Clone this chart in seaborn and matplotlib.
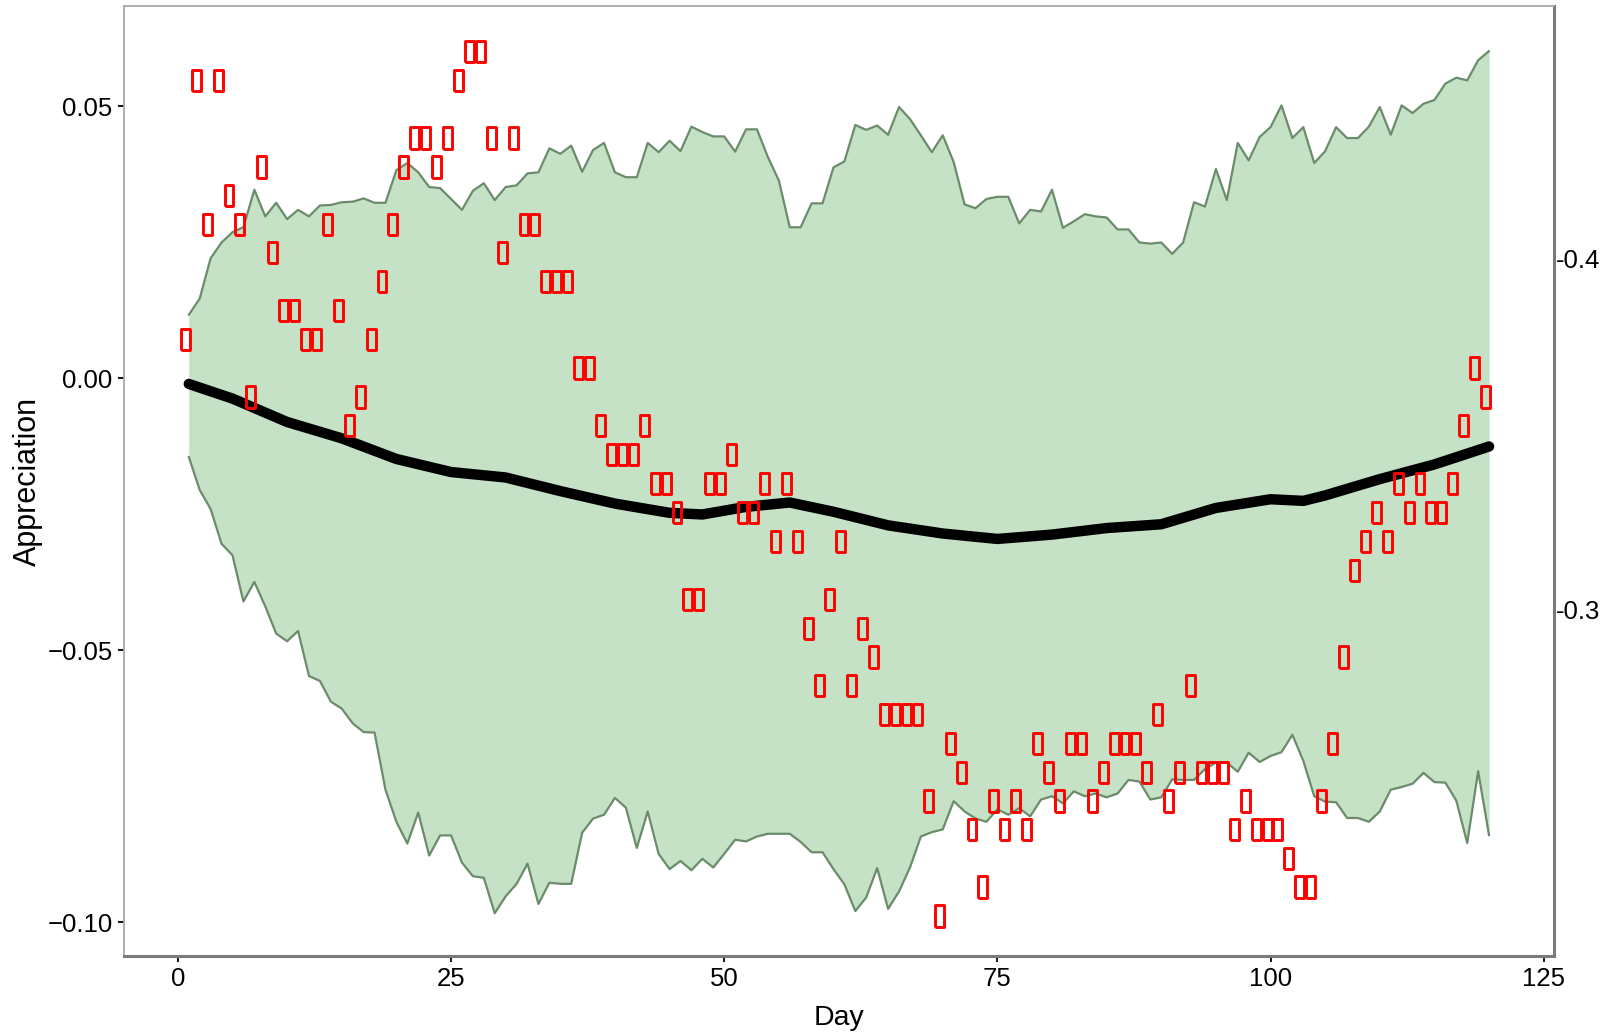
import numpy as np
import pandas as pd
import matplotlib
matplotlib.use("Agg")
import matplotlib.pyplot as plt
import matplotlib.transforms as mtransforms
import seaborn as sns

# ---- data ----
days = list(range(1, 121))

# observed appreciation (red boxes), one per day
observed = [
    0.0072, 0.0548, 0.0283, 0.0548, 0.0336, 0.0283, -0.0034, 0.0389, 0.0231, 0.0125,
    0.0125, 0.0072, 0.0072, 0.0283, 0.0125, -0.0087, -0.0034, 0.0072, 0.0178, 0.0283,
    0.0389, 0.0442, 0.0442, 0.0389, 0.0442, 0.0548, 0.0601, 0.0601, 0.0442, 0.0231,
    0.0442, 0.0283, 0.0283, 0.0178, 0.0178, 0.0178, 0.0019, 0.0019, -0.0087, -0.0140,
    -0.0140, -0.0140, -0.0087, -0.0193, -0.0193, -0.0247, -0.0406, -0.0406, -0.0193, -0.0193,
    -0.0140, -0.0247, -0.0247, -0.0193, -0.0300, -0.0193, -0.0300, -0.0459, -0.0565, -0.0406,
    -0.0300, -0.0565, -0.0459, -0.0512, -0.0618, -0.0618, -0.0618, -0.0618, -0.0777, -0.0988,
    -0.0671, -0.0724, -0.0829, -0.0935, -0.0777, -0.0829, -0.0777, -0.0829, -0.0671, -0.0724,
    -0.0777, -0.0671, -0.0671, -0.0777, -0.0724, -0.0671, -0.0671, -0.0671, -0.0724, -0.0618,
    -0.0777, -0.0724, -0.0565, -0.0724, -0.0724, -0.0724, -0.0829, -0.0777, -0.0829, -0.0829,
    -0.0829, -0.0882, -0.0935, -0.0935, -0.0777, -0.0671, -0.0512, -0.0353, -0.0300, -0.0247,
    -0.0300, -0.0193, -0.0247, -0.0193, -0.0247, -0.0247, -0.0193, -0.0087, 0.0019, -0.0034,
]

# upper edge of the green band
upper = [
    0.0117, 0.0147, 0.0221, 0.0250, 0.0269, 0.0278, 0.0347, 0.0298, 0.0323, 0.0293,
    0.0310, 0.0298, 0.0318, 0.0319, 0.0324, 0.0325, 0.0331, 0.0323, 0.0323, 0.0383,
    0.0396, 0.0379, 0.0352, 0.0350, 0.0330, 0.0310, 0.0345, 0.0359, 0.0328, 0.0352,
    0.0355, 0.0377, 0.0379, 0.0423, 0.0413, 0.0428, 0.0380, 0.0420, 0.0433, 0.0379,
    0.0370, 0.0370, 0.0433, 0.0416, 0.0437, 0.0418, 0.0463, 0.0453, 0.0445, 0.0445,
    0.0417, 0.0458, 0.0458, 0.0407, 0.0364, 0.0278, 0.0278, 0.0322, 0.0322, 0.0388,
    0.0399, 0.0466, 0.0457, 0.0465, 0.0448, 0.0499, 0.0477, 0.0447, 0.0416, 0.0447,
    0.0398, 0.0320, 0.0313, 0.0330, 0.0334, 0.0334, 0.0285, 0.0310, 0.0307, 0.0347,
    0.0277, 0.0289, 0.0302, 0.0298, 0.0296, 0.0274, 0.0274, 0.0250, 0.0248, 0.0250,
    0.0229, 0.0250, 0.0324, 0.0316, 0.0385, 0.0328, 0.0433, 0.0401, 0.0444, 0.0462,
    0.0502, 0.0442, 0.0462, 0.0396, 0.0418, 0.0462, 0.0442, 0.0442, 0.0463, 0.0499,
    0.0448, 0.0502, 0.0488, 0.0505, 0.0512, 0.0542, 0.0553, 0.0548, 0.0585, 0.0602,
]

# lower edge of the green band
lower = [
    -0.0144, -0.0205, -0.0240, -0.0304, -0.0325, -0.0410, -0.0374, -0.0419, -0.0469, -0.0483,
    -0.0464, -0.0547, -0.0556, -0.0594, -0.0607, -0.0634, -0.0650, -0.0651, -0.0756, -0.0815,
    -0.0855, -0.0798, -0.0877, -0.0840, -0.0840, -0.0890, -0.0915, -0.0918, -0.0983, -0.0952,
    -0.0929, -0.0892, -0.0966, -0.0927, -0.0929, -0.0929, -0.0835, -0.0809, -0.0802, -0.0771,
    -0.0789, -0.0863, -0.0796, -0.0874, -0.0902, -0.0887, -0.0904, -0.0883, -0.0899, -0.0874,
    -0.0848, -0.0851, -0.0842, -0.0837, -0.0837, -0.0837, -0.0852, -0.0871, -0.0871, -0.0902,
    -0.0930, -0.0979, -0.0954, -0.0900, -0.0975, -0.0943, -0.0899, -0.0842, -0.0834, -0.0829,
    -0.0777, -0.0796, -0.0809, -0.0815, -0.0792, -0.0802, -0.0790, -0.0805, -0.0774, -0.0768,
    -0.0781, -0.0759, -0.0768, -0.0763, -0.0770, -0.0763, -0.0738, -0.0741, -0.0774, -0.0770,
    -0.0737, -0.0738, -0.0738, -0.0718, -0.0706, -0.0706, -0.0723, -0.0688, -0.0705, -0.0694,
    -0.0687, -0.0655, -0.0703, -0.0768, -0.0778, -0.0779, -0.0808, -0.0808, -0.0815, -0.0796,
    -0.0756, -0.0751, -0.0745, -0.0725, -0.0742, -0.0743, -0.0776, -0.0854, -0.0722, -0.0840,
]

# smoothed trend (thick black line)
trend_days = [1, 5, 10, 15, 20, 25, 30, 35, 40, 45, 48, 52, 56, 60, 65, 70, 75, 80,
              85, 90, 95, 100, 103, 105, 110, 115, 120]
trend = [-0.0010, -0.0037, -0.0080, -0.0110, -0.0148, -0.0172, -0.0182, -0.0207, -0.0230,
         -0.0247, -0.0250, -0.0236, -0.0228, -0.0245, -0.0270, -0.0285, -0.0295, -0.0287,
         -0.0275, -0.0268, -0.0238, -0.0222, -0.0225, -0.0215, -0.0185, -0.0158, -0.0125]

right_ticks = [-0.4, -0.3]
right_labels = ["-0.4", "-0.3"]

band = pd.DataFrame({"Day": days, "upper": upper, "lower": lower, "obs": observed})
smooth = pd.DataFrame({"Day": trend_days, "fit": trend})

# ---- plotting ----
sns.set_theme(style="white")
plt.rcParams["font.family"] = ["Liberation Sans", "DejaVu Sans"]

fig = plt.figure(figsize=(16.18, 10.34), dpi=100)
ax = fig.add_axes([0.0765, 0.0758, 0.884, 0.918])

ax.fill_between(band["Day"], band["lower"], band["upper"], color="#c5e1c6", lw=0, zorder=1)
sns.lineplot(data=band, x="Day", y="upper", ax=ax, color="#6b8c6b", lw=1.6, zorder=2)
sns.lineplot(data=band, x="Day", y="lower", ax=ax, color="#6b8c6b", lw=1.6, zorder=2)
sns.lineplot(data=smooth, x="Day", y="fit", ax=ax, color="black", lw=7.5, zorder=3)

box = [(-0.42, -1), (0.42, -1), (0.42, 1), (-0.42, 1), (-0.42, -1)]
sns.scatterplot(data=band, x="Day", y="obs", ax=ax, marker=box, s=235,
                color="red", linewidth=2.1, zorder=4)
pts = ax.collections[-1]
pts.set_facecolor("none")
pts.set_edgecolor("red")
# the boxes sit a few pixels left of their day in the original
pts.set_offset_transform(ax.transData + mtransforms.ScaledTranslation(-0.035, 0, fig.dpi_scale_trans))

ax.set_xlim(-4.95, 125.95)
ax.set_ylim(-0.1061, 0.0684)
ax.set_xticks([0, 25, 50, 75, 100, 125])
ax.set_yticks([-0.10, -0.05, 0.00, 0.05])
ax.set_yticklabels(["\u22120.10", "\u22120.05", "0.00", "0.05"])
ax.set_xlabel("Day", fontsize=20.5, labelpad=10, color="black")
ax.set_ylabel("Appreciation", fontsize=22, labelpad=3, color="black")
ax.tick_params(axis="both", labelsize=18.5, colors="black", length=4.5, width=1.3,
               direction="out", bottom=True, left=True)
ax.tick_params(axis="x", pad=4)
ax.tick_params(axis="y", pad=3.5)

for side in ["left", "top"]:
    ax.spines[side].set_color("#a8a8a8")
    ax.spines[side].set_linewidth(1.3)
for side in ["bottom", "right"]:
    ax.spines[side].set_color("#7a7a7a")
    ax.spines[side].set_linewidth(2.2)

# secondary (right) axis
ax2 = ax.twinx()
ax2.set_ylim(-0.2012, -0.4718)
ax2.set_yticks(right_ticks)
ax2.set_yticklabels(right_labels)
ax2.tick_params(axis="y", labelsize=18.5, colors="black", length=0, pad=1)
ax2.grid(False)
for side in ["left", "top", "bottom", "right"]:
    ax2.spines[side].set_visible(False)

fig.savefig("out.png", dpi=100, facecolor="white")
